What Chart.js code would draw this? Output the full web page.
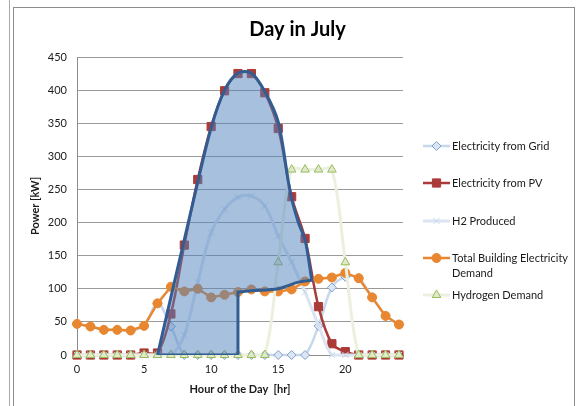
<!DOCTYPE html>
<html>
<head>
<meta charset="utf-8">
<title>Day in July</title>
<script src="https://cdn.jsdelivr.net/npm/chart.js@4.4.0/dist/chart.umd.min.js"></script>
<style>
  html, body { margin: 0; padding: 0; background: #fff; }
  #wrap { position: relative; width: 583px; height: 406px; overflow: hidden; }
  .edge { position: absolute; left: 9px; top: 0; width: 1px; height: 406px; background: #a8a8a8; }
  .frame { position: absolute; left: 13px; top: 7px; width: 560px; height: 420px; border: 1px solid #8c8c8c; }
  canvas { position: absolute; left: 0; top: 0; }
</style>
</head>
<body>
<div id="wrap">
  <div class="edge"></div>
  <div class="frame"></div>
  <canvas id="myChart" width="583" height="406"></canvas>
</div>
<script>
// hour of the day
const hours = [0, 1, 2, 3, 4, 5, 6, 7, 8, 9, 10, 11, 12, 13, 14, 15, 16, 17, 18, 19, 20, 21, 22, 23, 24];

// kW
const gridKW     = [47, 43, 38, 38, 37, 44, 78, 43, 0, 0, 0, 0, 0, 0, 0, 0, 0, 0, 44, 102, 118, 116, 87, 59, 46];
const pvKW       = [0, 0, 0, 0, 0, 3, 3, 62, 166, 265, 345, 399, 425, 425, 396, 342, 239, 176, 73, 17, 5, 0, 0, 0, 0];
const h2KW       = [0, 0, 0, 0, 0, 0, 0, 0, 30, 110, 185, 220, 238, 240, 225, 180, 140, 95, 45, 0, 0, 0, 0, 0, 0];
const demandKW   = [47, 43, 38, 38, 37, 44, 78, 103, 96, 100, 87, 91, 95, 99, 96, 96, 99, 111, 115, 117, 124, 116, 87, 59, 46];
const h2DemandKW = [0, 0, 0, 0, 0, 0, 0, 0, 0, 0, 0, 0, 0, 0, 0, 140, 280, 280, 280, 280, 140, 0, 0, 0, 0];

// outline of the highlighted (shaded) region, corners listed twice to keep them sharp
const shapeHours = [6, 8.7, 10, 11, 12, 13, 14, 15, 15.9, 16.5, 17, 17.5, 17.5, 16.5, 15, 13, 12, 12, 12, 12, 6];
const shapeKW    = [0, 235, 343, 400, 426, 426, 398, 352, 245, 200, 174, 113, 113, 110, 100, 97, 95, 95, 0, 0, 0];

const yTicks = [0, 50, 100, 150, 200, 250, 300, 350, 400, 450];
const xTicks = [0, 5, 10, 15, 20];

const FONT = 'Lato';

function pts(xs, ys) {
  return xs.map((x, i) => ({ x: x, y: ys[i] }));
}

// small marker drawer for the legend
function marker(ctx, style, x, y, r, fill, stroke) {
  ctx.save();
  ctx.fillStyle = fill;
  ctx.strokeStyle = stroke;
  ctx.lineWidth = 1;
  ctx.beginPath();
  if (style === 'rectRot') {
    ctx.moveTo(x, y - r); ctx.lineTo(x + r, y); ctx.lineTo(x, y + r); ctx.lineTo(x - r, y); ctx.closePath();
    ctx.fill(); ctx.stroke();
  } else if (style === 'rect') {
    const s = r * Math.SQRT1_2;
    ctx.rect(x - s, y - s, 2 * s, 2 * s); ctx.fill(); ctx.stroke();
  } else if (style === 'circle') {
    ctx.arc(x, y, r, 0, Math.PI * 2); ctx.fill(); ctx.stroke();
  } else if (style === 'triangle') {
    ctx.moveTo(x, y - r); ctx.lineTo(x + r * 0.87, y + r * 0.5); ctx.lineTo(x - r * 0.87, y + r * 0.5); ctx.closePath();
    ctx.fill(); ctx.stroke();
  } else if (style === 'crossRot') {
    const s = r * Math.SQRT1_2;
    ctx.moveTo(x - s, y - s); ctx.lineTo(x + s, y + s);
    ctx.moveTo(x + s, y - s); ctx.lineTo(x - s, y + s);
    ctx.stroke();
  }
  ctx.restore();
}

const legendRows = [146, 183, 221, 258, 295];

const sideLegend = {
  id: 'sideLegend',
  afterDraw(chart) {
    const ctx = chart.ctx;
    let row = 0;
    chart.data.datasets.forEach(ds => {
      if (ds.noLegend) return;
      const y = legendRows[row++];
      ctx.save();
      ctx.strokeStyle = ds.borderColor;
      ctx.lineWidth = ds.borderWidth;
      ctx.beginPath();
      ctx.moveTo(423, y);
      ctx.lineTo(450, y);
      ctx.stroke();
      ctx.restore();
      marker(ctx, ds.pointStyle, 436.5, y, ds.pointRadius, ds.pointBackgroundColor, ds.pointBorderColor);

      ctx.save();
      ctx.font = '11px ' + FONT;
      ctx.fillStyle = '#1a1a1a';
      ctx.textBaseline = 'middle';
      // wrap long labels like Excel does
      const words = ds.label.split(' ');
      const lines = [];
      let cur = '';
      words.forEach(w => {
        const t = cur ? cur + ' ' + w : w;
        if (ctx.measureText(t).width > 122 && cur) { lines.push(cur); cur = w; } else { cur = t; }
      });
      lines.push(cur);
      lines.forEach((l, i) => ctx.fillText(l, 452, y + i * 15));
      ctx.restore();
    });
  }
};

const ctx = document.getElementById('myChart');

new Chart(ctx, {
  type: 'line',
  data: {
    datasets: [
      {
        label: 'Shaded region',
        noLegend: true,
        data: pts(shapeHours, shapeKW),
        borderColor: '#325d92',
        borderWidth: 3,
        backgroundColor: 'rgba(79,129,189,0.5)',
        fill: 'shape',
        tension: 0.3,
        pointRadius: 0,
        order: 0
      },
      {
        label: 'Electricity from Grid',
        data: pts(hours, gridKW),
        borderColor: '#c6d8ee',
        borderWidth: 2.5,
        tension: 0.35,
        pointStyle: 'rectRot',
        pointRadius: 4.5,
        pointBackgroundColor: '#dce6f2',
        pointBorderColor: '#7f9fcf',
        pointBorderWidth: 1,
        clip: false,
        order: 5
      },
      {
        label: 'Electricity from PV',
        data: pts(hours, pvKW),
        borderColor: '#ab3b38',
        borderWidth: 2.5,
        tension: 0.35,
        pointStyle: 'rect',
        pointRadius: 5.8,
        pointBackgroundColor: '#ab3b38',
        pointBorderColor: '#ab3b38',
        pointBorderWidth: 1,
        clip: false,
        order: 4
      },
      {
        label: 'H2 Produced',
        data: pts(hours, h2KW),
        borderColor: '#dbe5f2',
        borderWidth: 3,
        tension: 0.35,
        pointStyle: 'crossRot',
        pointRadius: 4.5,
        pointBackgroundColor: '#c9d9ee',
        pointBorderColor: '#c9d9ee',
        pointBorderWidth: 1,
        clip: false,
        order: 3
      },
      {
        label: 'Total Building Electricity Demand',
        data: pts(hours, demandKW),
        borderColor: '#e8872f',
        borderWidth: 2.5,
        tension: 0,
        pointStyle: 'circle',
        pointRadius: 4.5,
        pointBackgroundColor: '#e8872f',
        pointBorderColor: '#e8872f',
        pointBorderWidth: 1,
        clip: false,
        order: 2
      },
      {
        label: 'Hydrogen Demand',
        data: pts(hours, h2DemandKW),
        borderColor: '#ebf1de',
        borderWidth: 3,
        tension: 0.35,
        pointStyle: 'triangle',
        pointRadius: 5,
        pointBackgroundColor: '#dfe9cc',
        pointBorderColor: '#9bbb59',
        pointBorderWidth: 1,
        clip: false,
        order: 1
      }
    ]
  },
  options: {
    responsive: false,
    animation: false,
    events: [],
    layout: { padding: { left: 12, top: 0, right: 0, bottom: 0 } },
    plugins: {
      legend: { display: false },
      tooltip: { enabled: false },
      title: {
        display: true,
        text: 'Day in July',
        color: '#000',
        font: { family: FONT, size: 20, weight: 'bold' },
        padding: { top: 18, bottom: 15 }
      }
    },
    scales: {
      x: {
        type: 'linear',
        min: 0,
        max: 24.3,
        afterFit(s) { s.height = 51; },
        afterBuildTicks(s) { s.ticks = xTicks.map(v => ({ value: v })); },
        grid: { display: false, drawTicks: true, tickLength: 4 },
        border: { display: true, color: '#8c8c8c' },
        ticks: { color: '#1a1a1a', font: { family: FONT, size: 11 }, padding: 4, maxRotation: 0 },
        title: {
          display: true,
          text: 'Hour of the Day  [hr]',
          color: '#1a1a1a',
          font: { family: FONT, size: 11, weight: 'bold' },
          padding: { top: 0, bottom: 10 }
        }
      },
      y: {
        min: 0,
        max: 450,
        afterFit(s) { s.width = 65; },
        afterBuildTicks(s) { s.ticks = yTicks.map(v => ({ value: v })); },
        grid: { color: '#9a9a9a', drawTicks: false },
        border: { display: true, color: '#8c8c8c' },
        ticks: { color: '#1a1a1a', font: { family: FONT, size: 11 }, padding: 10 },
        title: {
          display: true,
          text: 'Power [kW]',
          color: '#1a1a1a',
          font: { family: FONT, size: 11, weight: 'bold' },
          padding: { top: 17, bottom: 0 }
        }
      },
      side: {
        position: 'right',
        afterFit(s) { s.width = 180; },
        grid: { display: false },
        border: { display: false },
        ticks: { display: false }
      }
    }
  },
  plugins: [sideLegend]
});
</script>
</body>
</html>
